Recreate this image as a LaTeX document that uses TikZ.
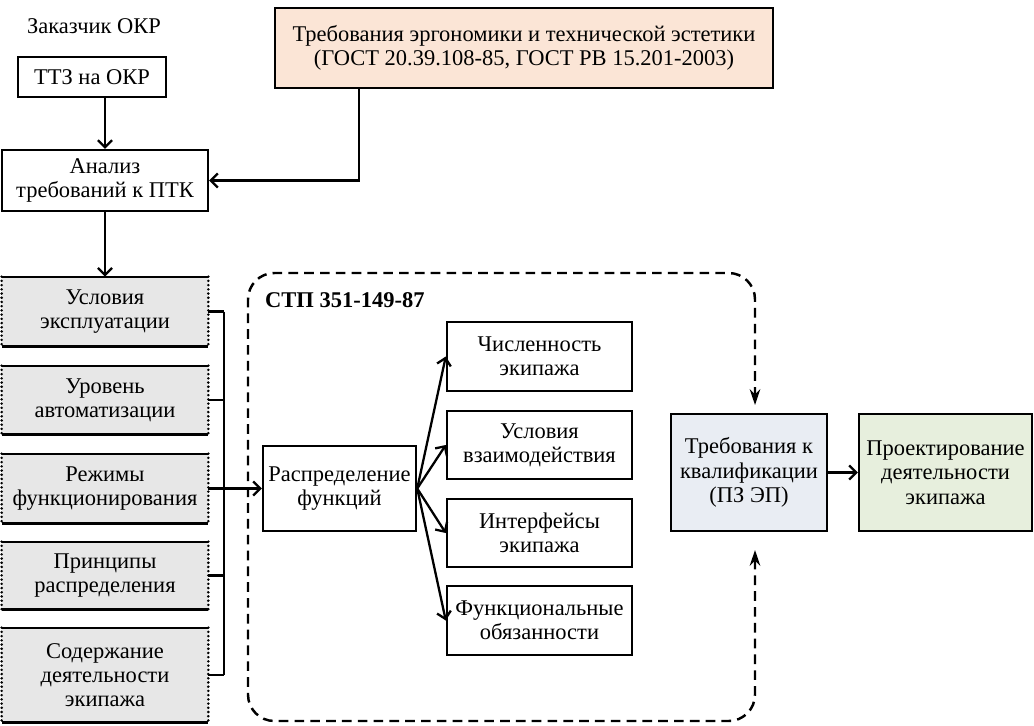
\documentclass[tikz,border=0pt]{standalone}
\usepackage{fontspec}
\setmainfont{Liberation Serif}
\usepackage{xcolor}
\usetikzlibrary{arrows.meta}

\definecolor{ergfill}{HTML}{FBE5D6}
\definecolor{greyfill}{HTML}{E7E7E7}
\definecolor{kvalfill}{HTML}{E9EDF3}
\definecolor{projfill}{HTML}{E7EFDD}

\def\px{0.02cm}

\tikzset{
	box/.style={draw, line width=1.4pt, align=center, inner sep=1pt},
	greybox/.style={fill=greyfill, align=center, inner sep=1pt},
	dots/.style={line width=1.6pt, line cap=round, dash pattern=on 0pt off 2.4pt},
	line/.style={line width=1.3pt},
	tip/.style={-{Straight Barb[length=4pt, width=8pt]}},
	frame/.style={line width=1.4pt, dash pattern=on 5.5pt off 3.5pt, rounded corners=15pt}
}

\begin{document}
\begin{tikzpicture}[x=\px, y=-\px, font=\fontsize{12.8}{13.8}\selectfont]
	\useasboundingbox (0,0) rectangle (1034,725);

	% top part
	\node (zak) at (94,26) {Заказчик ОКР};
	\node [box, minimum width=148*\px, minimum height=40*\px] (ttz) at (92,77) {ТТЗ на ОКР};
	\node [box, minimum width=206*\px, minimum height=61*\px] (an) at (105,180.5) {Анализ\\требований к ПТК};
	\node [box, fill=ergfill, minimum width=498*\px, minimum height=80*\px] (erg) at (524,48)
		{Требования эргономики и технической эстетики\\(ГОСТ 20.39.108-85, ГОСТ РВ 15.201-2003)};

	\draw [line, tip] (an.north |- ttz.south) -- (an.north);
	\draw [line, tip] (erg.south west) ++(85,0) |- (an.east);

	% left column
	\node [greybox, minimum width=206*\px, minimum height=69*\px] (l1) at (105,311.5) {Условия\\эксплуатации};
	\node [greybox, minimum width=206*\px, minimum height=68*\px] (l2) at (105,400) {Уровень\\автоматизации};
	\node [greybox, minimum width=206*\px, minimum height=69*\px] (l3) at (105,488.5) {Режимы\\функционирования};
	\node [greybox, minimum width=206*\px, minimum height=67*\px] (l4) at (105,575.5) {Принципы\\распределения};
	\node [greybox, minimum width=206*\px, minimum height=94*\px] (l5) at (105,675) {Содержание\\деятельности\\экипажа};

	\foreach \b in {l1,l2,l3,l4,l5} {
		\draw [line] (\b.north west) -- (\b.north east);
		\draw [line] (\b.south west) -- (\b.south east);
		\draw [dots] (\b.north west) -- (\b.south west);
		\draw [dots] (\b.north east) -- (\b.south east);
		\draw [line] (\b.east) -- ++(16,0) coordinate (\b-r);
	}
	\draw [line] (l1-r) -- (l5-r);

	\draw [line, tip] (an) -- (l1);

	% STP frame
	\node [anchor=west, font=\fontsize{12.8}{13.8}\selectfont\bfseries] (stp) at (259,300) {СТП 351-149-87};

	\node [box, minimum width=153*\px, minimum height=85*\px] (rasp) at (339.5,488.5) {Распределение\\функций};
	\node [box, minimum width=185*\px, minimum height=69*\px] (f1) at (539.5,356.5) {Численность\\экипажа};
	\node [box, minimum width=185*\px, minimum height=68*\px] (f2) at (539.5,445) {Условия\\взаимодействия};
	\node [box, minimum width=185*\px, minimum height=68*\px] (f3) at (539.5,533) {Интерфейсы\\экипажа};
	\node [box, minimum width=185*\px, minimum height=69*\px] (f4) at (539.5,620.5) {Функциональные\\обязанности};

	\draw [line, tip] (l3.east) -- (rasp.west);
	\draw [line, tip] (rasp.east) -- (f1.west);
	\draw [line, tip] (rasp.east) -- (f2.west);
	\draw [line, tip] (rasp.east) -- (f3.west);
	\draw [line, tip] (rasp.east) -- (f4.west);

	% right part
	\node [box, fill=kvalfill, minimum width=156*\px, minimum height=117*\px] (kval) at (749,472.5)
		{Требования к\\квалификации\\(ПЗ ЭП)};
	\node [box, fill=projfill, minimum width=173*\px, minimum height=117*\px] (proj) at (945.5,472.5)
		{Проектирование\\деятельности\\экипажа};

	\draw [line, tip] (kval) -- (proj);

	\coordinate (qtop) at (755,405);
	\coordinate (qbot) at (755,550);
	\draw [frame, {Stealth[length=9pt, width=6pt]}-{Stealth[length=9pt, width=6pt]}]
		(qbot) -- (755,721) -- (248,721) -- (248,273) -- (755,273) -- (qtop);
\end{tikzpicture}
\end{document}
